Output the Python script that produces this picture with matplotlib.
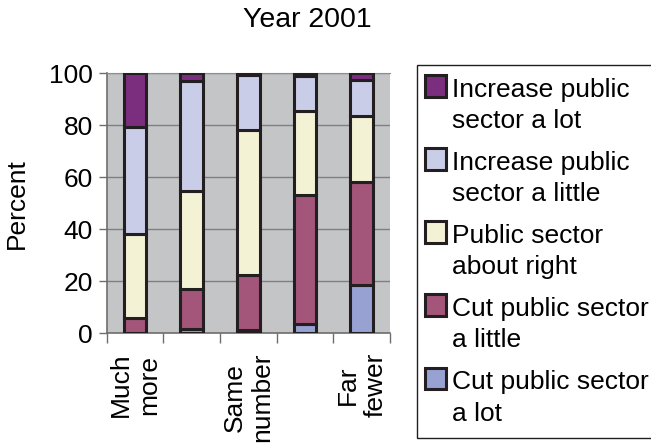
import matplotlib
matplotlib.use("Agg")
import matplotlib.pyplot as plt
import numpy as np
from matplotlib.patches import Rectangle
from matplotlib.container import BarContainer
from matplotlib.legend_handler import HandlerPatch, update_from_first_child

plt.rcParams["font.family"] = ["Liberation Sans", "DejaVu Sans"]

# Answer categories (only every other one carries a printed label)
categories = ["Much\nmore", "", "Same\nnumber", "", "Far\nfewer"]

# Percent of respondents in each category, stacked bottom to top
cut_a_lot = [0.0, 1.7, 1.3, 3.6, 18.4]
cut_a_little = [6.0, 15.4, 20.9, 49.7, 39.8]
about_right = [32.3, 37.5, 55.9, 32.2, 25.3]
increase_a_little = [41.1, 42.4, 21.0, 13.2, 13.7]
increase_a_lot = [20.6, 3.0, 0.9, 1.3, 2.8]

series = [
    ("Cut public sector\na lot", cut_a_lot, "#97a2d2"),
    ("Cut public sector\na little", cut_a_little, "#a3567a"),
    ("Public sector\nabout right", about_right, "#f3f2d5"),
    ("Increase public\nsector a little", increase_a_little, "#c9cde8"),
    ("Increase public\nsector a lot", increase_a_lot, "#7b2d7e"),
]

fig = plt.figure(figsize=(6.51, 4.43), dpi=100)
ax = fig.add_axes([0.164, 0.248, 0.435, 0.587])
ax.set_facecolor("#c4c5c7")

x = np.arange(len(categories))
bottom = np.zeros(len(categories))
handles = []
for label, vals, color in series:
    vals = np.asarray(vals)
    bars = ax.bar(x, vals, width=0.4, bottom=bottom, color=color,
                  edgecolor="#231f20", linewidth=2.2, label=label, zorder=3)
    handles.append(bars)
    bottom += vals

ax.set_xlim(-0.5, len(categories) - 0.5)
ax.set_ylim(0, 100)
ax.set_yticks([0, 20, 40, 60, 80, 100])
ax.yaxis.grid(True, color="#7f7f7f", linewidth=1.0, zorder=0)
ax.set_axisbelow(True)

# Category boundaries get the tick marks, bar centres get the labels
ax.set_xticks(np.arange(len(categories) + 1) - 0.5)
ax.set_xticklabels([])
ax.set_xticks(x, minor=True)
ax.set_xticklabels(categories, minor=True, rotation=90, fontsize=19,
                   multialignment="center")
ax.tick_params(axis="x", which="minor", length=0, pad=14)
ax.tick_params(axis="x", which="major", length=7, width=1.0, color="#6e6e6e")
ax.tick_params(axis="y", length=6, width=1.0, color="#6e6e6e", pad=4,
               labelsize=19)

for side in ("left", "bottom"):
    ax.spines[side].set_color("#6e6e6e")
    ax.spines[side].set_linewidth(1.2)
ax.spines["top"].set_color("#8f8f8f")
ax.spines["right"].set_visible(False)

ax.set_ylabel("Percent", fontsize=19)
ax.yaxis.set_label_coords(-0.275, 0.5)

fig.text(0.472, 0.955, "Year 2001", ha="center", va="center", fontsize=20.5)

fs = 19
linesp = 1.38


def top_square(legend, orig_handle, xdescent, ydescent, width, height, fontsize):
    # square sits beside the first line of a two-line label
    side = 0.82 * fontsize
    shift = 0.5 * 0.85 * linesp * fontsize + 0.5 * 0.21 * fontsize
    return Rectangle((-xdescent - 0.19 * fontsize, -ydescent + shift), side, side)


leg = fig.legend(handles=handles[::-1], labels=[s[0] for s in series][::-1],
                 loc="upper left", bbox_to_anchor=(417 / 651, 1 - 65 / 443),
                 fontsize=fs, frameon=True, fancybox=False, framealpha=1,
                 edgecolor="#231f20", handlelength=0.85, handletextpad=-0.02,
                 labelspacing=0.68, borderpad=0.48, borderaxespad=0,
                 handler_map={BarContainer: HandlerPatch(
                     patch_func=top_square, update_func=update_from_first_child)})
leg.get_frame().set_linewidth(1.0)
for t in leg.get_texts():
    t.set_linespacing(linesp)
for h in leg.legend_handles:
    h.set_linewidth(2.2)

fig.savefig("out.png", dpi=100)
